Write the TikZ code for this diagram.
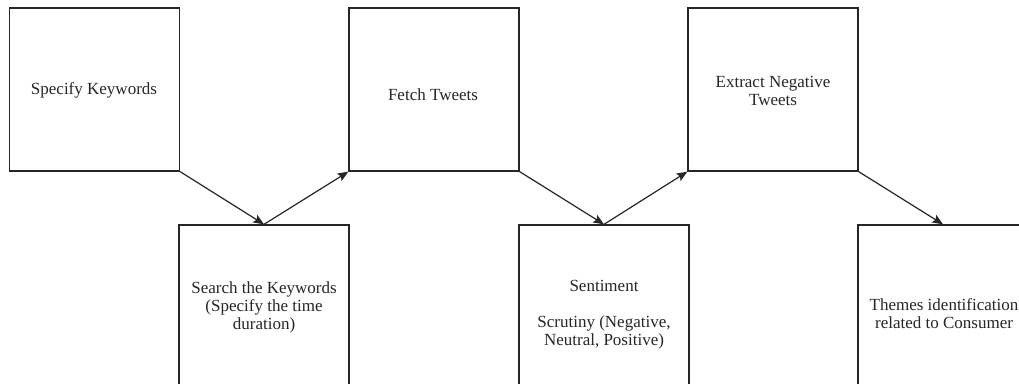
\documentclass[tikz,border=0pt]{standalone}
\usepackage{fontspec}
\setmainfont{Liberation Serif}
\usetikzlibrary{arrows.meta}
\begin{document}
\begin{tikzpicture}[x=0.75pt,y=-0.75pt,
  stagebox/.style={draw=black!85,line width=1pt,minimum width=127.5pt,minimum height=122.25pt,inner sep=0pt},
  label/.style={text=black!85,align=center,inner sep=0pt,font=\fontsize{12.75}{13.5}\selectfont},
  flow/.style={draw=black!85,line width=0.9pt,-{Stealth[length=8pt,width=6.5pt,inset=1.5pt]}}]
\useasboundingbox (0,0) rectangle (1019,384);
\clip (0,0) rectangle (1019,384);
\node[stagebox] (b1) at (94.5,89.5) {};
\node[stagebox] (b2) at (264,306.5) {};
\node[stagebox] (b3) at (434,89.5) {};
\node[stagebox] (b4) at (604,306.5) {};
\node[stagebox] (b5) at (773,89.5) {};
\node[stagebox] (b6) at (943,306.5) {};
\node[label] (t1) at (94,90) {Specify Keywords};
\node[label] (t2) at (264,307) {Search the Keywords\\(Specify the time\\duration)};
\node[label] (t3) at (433,95) {Fetch Tweets};
\node[label] (t4) at (604,315) {Sentiment\\\mbox{}\\Scrutiny (Negative,\\Neutral, Positive)};
\node[label] (t5) at (773,90.5) {Extract Negative\\Tweets};
\node[label] (t6) at (944,314) {Themes identification\\related to Consumer};
\draw[flow] (b1.south east) -- (b2.north);
\draw[flow] (b2.north) -- (b3.south west);
\draw[flow] (b3.south east) -- (b4.north);
\draw[flow] (b4.north) -- (b5.south west);
\draw[flow] (b5.south east) -- (b6.north);
\end{tikzpicture}
\end{document}
